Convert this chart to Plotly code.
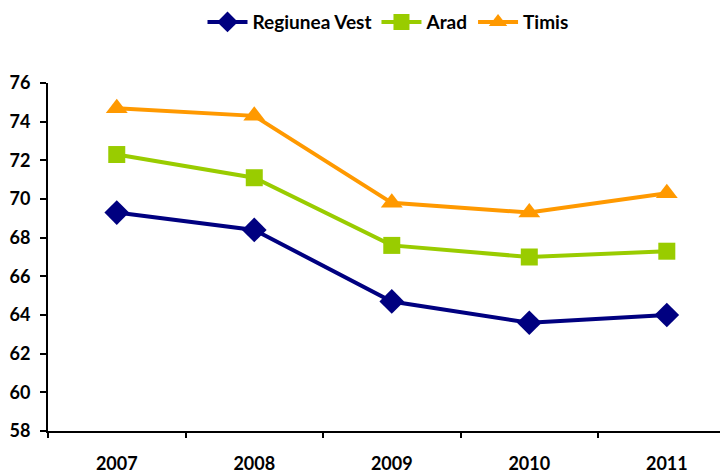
import plotly.graph_objects as go

years = ["2007", "2008", "2009", "2010", "2011"]
regiunea_vest = [69.3, 68.4, 64.7, 63.6, 64.0]
arad = [72.3, 71.1, 67.6, 67.0, 67.3]
timis = [74.7, 74.3, 69.8, 69.3, 70.3]
y_ticks = [58, 60, 62, 64, 66, 68, 70, 72, 74, 76]

FONT = "Lato"
xpos = list(range(len(years)))

fig = go.Figure()
series = [
    ("Regiunea Vest", regiunea_vest, "#000080", "diamond", 19),
    ("Arad", arad, "#99CC00", "square", 17),
    ("Timis", timis, "#FF9900", "triangle-up", 19),
]
for name, vals, color, sym, size in series:
    fig.add_trace(go.Scatter(
        x=xpos, y=vals, name=name, mode="lines+markers",
        line=dict(color=color, width=4),
        marker=dict(symbol=sym, size=size, color=color, line=dict(width=0)),
    ))

# invisible trace on second x-axis to draw category boundary ticks
fig.add_trace(go.Scatter(x=[-0.5], y=[58], xaxis="x2", mode="markers",
                         marker=dict(opacity=0), showlegend=False, hoverinfo="skip"))

xr = [-0.5, 4.445]
fig.update_layout(
    width=720, height=464,
    margin=dict(l=40, r=0, t=75, b=41, autoexpand=False),
    paper_bgcolor="white", plot_bgcolor="white",
    font=dict(family=FONT, size=18, color="black"),
    showlegend=True,
    legend=dict(orientation="h", x=0.5, xanchor="center", y=1.175, yanchor="middle",
                font=dict(family=FONT, size=19, color="black", weight="bold"),
                itemwidth=40, traceorder="normal"),
    xaxis=dict(range=xr, tickvals=xpos, ticktext=["<b>%s</b>" % y for y in years],
               ticks="", showgrid=False, zeroline=False, showline=True,
               linecolor="black", linewidth=2, ticklabelstandoff=15, automargin=False,
               tickfont=dict(family=FONT, size=18, color="black")),
    xaxis2=dict(range=xr, overlaying="x", anchor="y", side="bottom",
                tickvals=[-0.5, 0.5, 1.5, 2.5, 3.5], ticktext=["", "", "", "", ""],
                ticks="outside", ticklen=6, tickwidth=2, tickcolor="black", automargin=False,
                showgrid=False, zeroline=False, showline=False),
    yaxis=dict(range=[58, 76], tickvals=y_ticks, ticktext=["<b>%d</b>" % v for v in y_ticks],
               ticks="outside", ticklen=6, tickwidth=2, tickcolor="black", automargin=False,
               ticklabelstandoff=6,
               showgrid=False, zeroline=False, showline=True, linecolor="black", linewidth=2,
               tickfont=dict(family=FONT, size=18, color="black")),
)

fig.write_html("out.html")
